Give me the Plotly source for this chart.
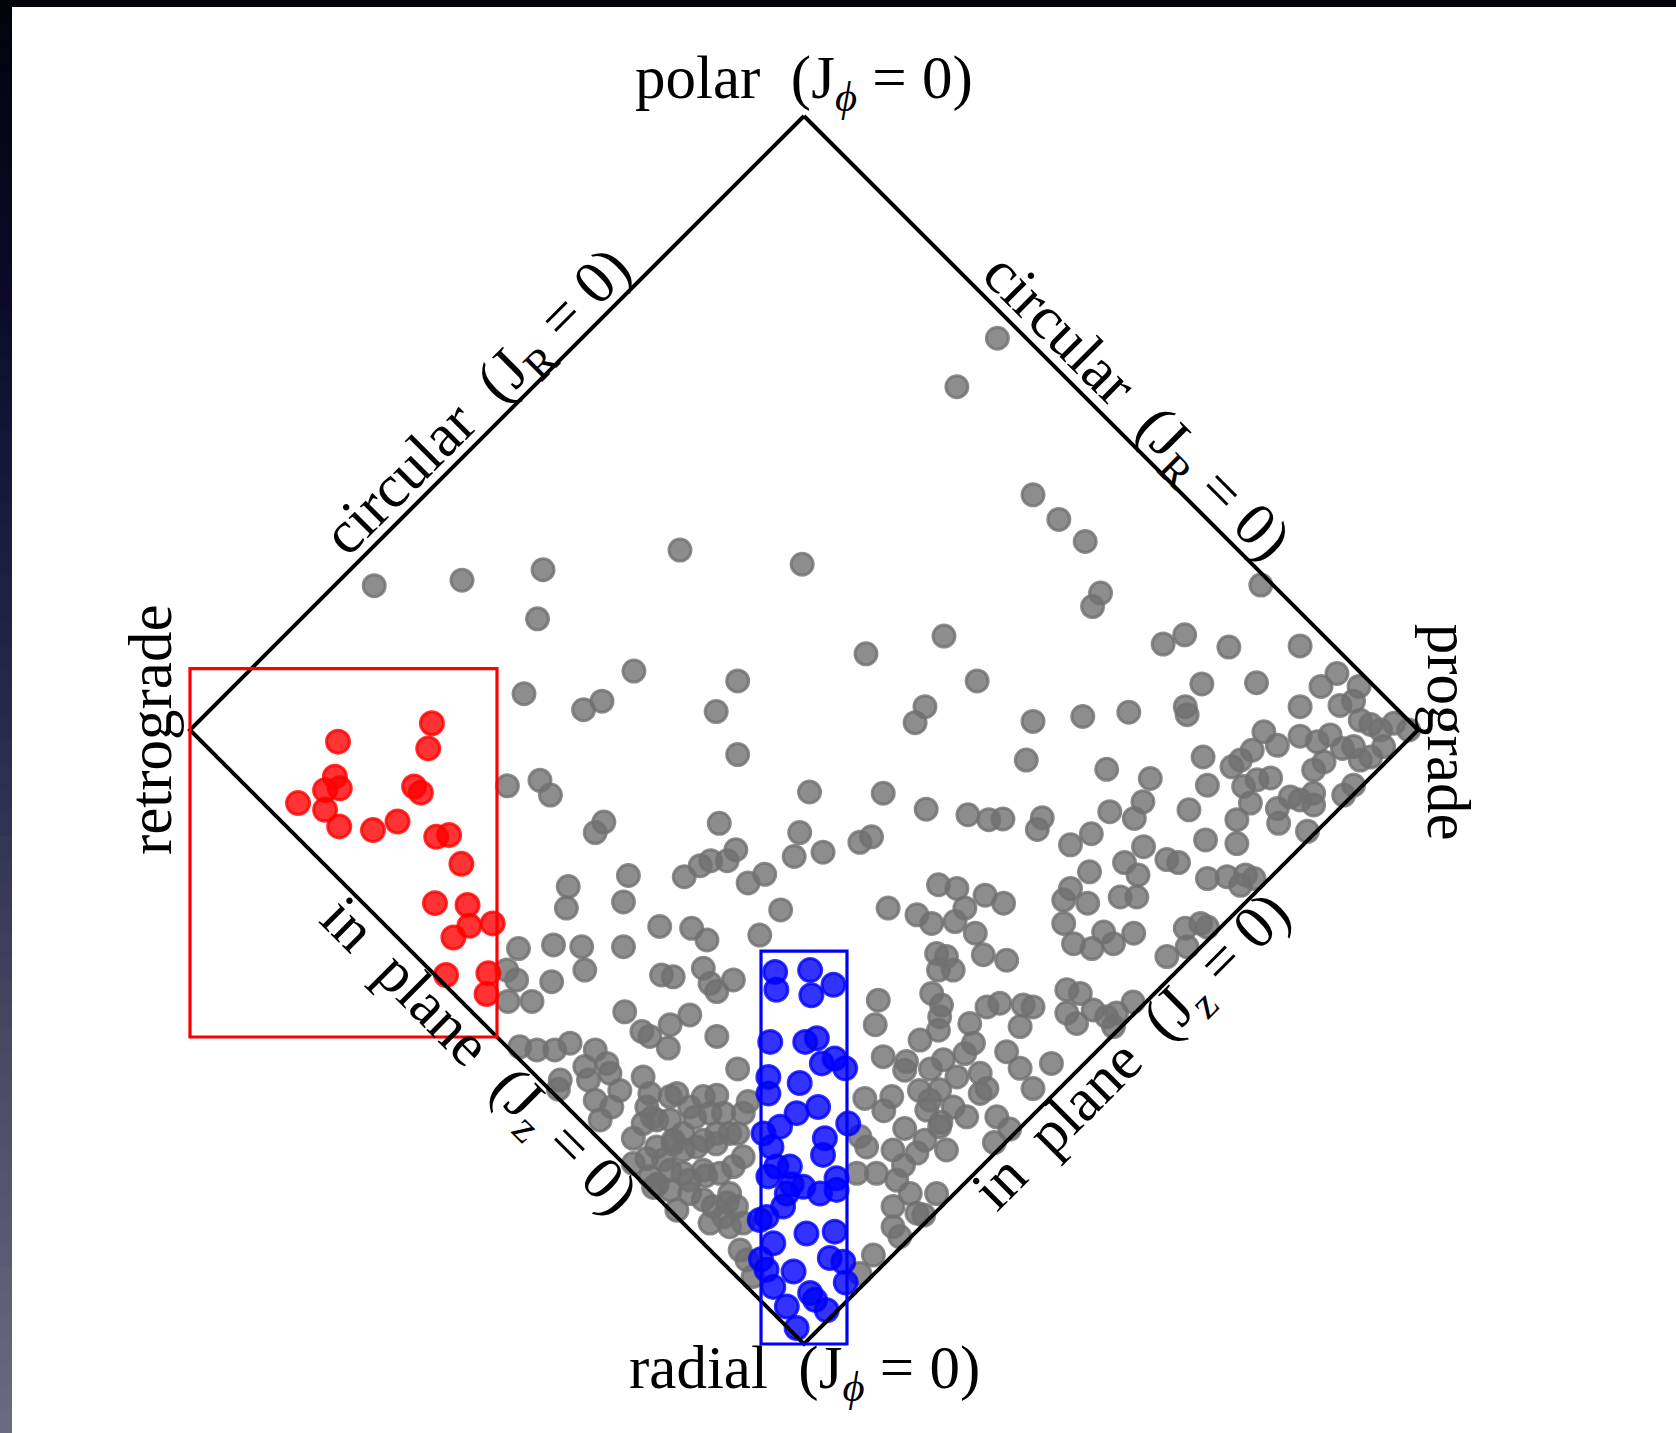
import plotly.graph_objects as go

# ---------------- data (x = J_phi / J_tot, y = (J_z - J_R) / J_tot) ----------------
DIAMOND_X = [0, 1, 0, -1, 0]
DIAMOND_Y = [1, 0, -1, 0, 1]

RED_BOX_X = [-1.0, -0.5]
RED_BOX_Y = [-0.5, 0.1]
BLUE_BOX_X = [-0.07, 0.07]
BLUE_BOX_Y = [-1.0, -0.36]

GRAY_POINTS = [
    (0.315, 0.638), (0.249, 0.559), (0.373, 0.383), (0.415, 0.343), (0.458, 0.307),
    (-0.202, 0.293), (-0.003, 0.270), (-0.700, 0.235), (-0.557, 0.244), (-0.425, 0.261),
    (-0.434, 0.181), (0.101, 0.124), (0.228, 0.153), (-0.277, 0.096), (-0.108, 0.080),
    (0.282, 0.080), (-0.456, 0.059), (-0.359, 0.033), (-0.329, 0.047), (-0.143, 0.030),
    (0.197, 0.038), (0.181, 0.012), (0.373, 0.014), (-0.108, -0.040), (0.362, -0.049),
    (-0.483, -0.091), (-0.430, -0.082), (-0.413, -0.106), (0.009, -0.101), (0.129, -0.103),
    (0.199, -0.129), (0.267, -0.138), (0.301, -0.146), (0.324, -0.145), (0.388, -0.143),
    (0.380, -0.162), (-0.326, -0.150), (-0.340, -0.167), (-0.138, -0.152), (-0.007, -0.167),
    (0.110, -0.174), (0.091, -0.183), (0.031, -0.199), (-0.016, -0.206), (-0.111, -0.195),
    (-0.125, -0.213), (-0.152, -0.213), (-0.169, -0.221), (-0.195, -0.239), (-0.064, -0.235),
    (-0.091, -0.249), (-0.286, -0.237), (-0.038, -0.293),
    # right side
    (0.873, 0.040), (0.895, 0.047), (0.906, 0.016), (0.923, 0.009), (0.939, 0.000),
    (0.961, 0.011), (0.985, 0.000), (0.749, -0.003), (0.771, -0.025), (0.808, -0.010),
    (0.836, -0.019), (0.857, -0.008), (0.877, -0.030), (0.895, -0.027), (0.906, -0.049),
    (0.923, -0.044), (0.944, -0.027), (0.847, -0.052), (0.830, -0.065), (0.730, -0.033),
    (0.711, -0.049), (0.697, -0.060), (0.650, -0.044), (0.657, -0.090), (0.716, -0.092),
    (0.738, -0.081), (0.760, -0.078), (0.727, -0.119), (0.792, -0.109), (0.808, -0.114),
    (0.830, -0.103), (0.830, -0.122), (0.771, -0.128), (0.773, -0.152), (0.705, -0.146),
    (0.705, -0.185), (0.654, -0.179), (0.627, -0.130), (0.493, -0.064), (0.564, -0.079),
    (0.552, -0.117), (0.538, -0.144), (0.498, -0.133), (0.468, -0.169), (0.434, -0.187),
    (0.553, -0.190), (0.591, -0.211), (0.610, -0.216), (0.522, -0.216), (0.544, -0.236),
    (0.465, -0.231), (0.434, -0.258), (0.423, -0.277), (0.462, -0.282), (0.515, -0.272),
    (0.542, -0.272), (0.657, -0.242), (0.689, -0.239), (0.719, -0.236), (0.733, -0.242),
    (0.711, -0.253), (0.879, -0.106), (0.895, -0.090), (0.820, -0.165),
    (0.483, 0.223), (0.470, 0.201), (0.585, 0.140), (0.620, 0.155), (0.692, 0.135),
    (0.808, 0.137), (0.737, 0.077), (0.648, 0.075), (0.621, 0.038), (0.624, 0.025),
    (0.454, 0.022), (0.529, 0.029), (0.808, 0.038), (0.868, 0.092), (0.842, 0.071),
    (0.904, 0.071), (0.744, 0.236),
    (0.423, -0.315), (0.488, -0.329), (0.504, -0.348), (0.537, -0.331), (0.439, -0.348),
    (0.469, -0.356), (0.621, -0.323), (0.646, -0.315), (0.657, -0.321), (0.624, -0.353),
    (0.591, -0.369),
    # lower right
    (0.137, -0.290), (0.184, -0.301), (0.208, -0.315), (0.219, -0.252), (0.249, -0.258),
    (0.262, -0.290), (0.246, -0.312), (0.295, -0.269), (0.325, -0.282), (0.279, -0.331),
    (0.292, -0.366), (0.330, -0.375), (0.216, -0.364), (0.232, -0.369), (0.219, -0.391),
    (0.243, -0.391), (0.208, -0.429), (0.224, -0.448), (0.221, -0.467), (0.219, -0.489),
    (0.189, -0.505), (0.121, -0.440), (0.116, -0.480), (0.129, -0.532), (0.167, -0.540),
    (0.164, -0.554), (0.227, -0.537), (0.270, -0.478), (0.298, -0.451), (0.319, -0.445),
    (0.357, -0.448), (0.373, -0.451), (0.352, -0.483), (0.330, -0.524), (0.352, -0.551),
    (0.373, -0.584), (0.403, -0.543), (0.276, -0.510), (0.262, -0.527), (0.249, -0.565),
    (0.287, -0.559), (0.298, -0.584), (0.221, -0.586), (0.205, -0.603), (0.200, -0.619),
    (0.243, -0.614), (0.265, -0.630), (0.314, -0.630), (0.287, -0.592), (0.099, -0.600),
    (0.143, -0.597), (0.164, -0.649), (0.197, -0.668), (0.221, -0.646), (0.232, -0.684),
    (0.184, -0.689), (0.145, -0.684), (0.091, -0.662), (0.102, -0.679), (0.086, -0.722),
    (0.118, -0.722), (0.151, -0.733), (0.173, -0.755), (0.216, -0.755), (0.145, -0.776),
    (0.184, -0.787), (0.145, -0.809), (0.156, -0.825), (0.195, -0.790), (0.113, -0.855),
    (0.091, -0.885), (0.310, -0.672), (0.335, -0.650), (0.428, -0.423), (0.450, -0.429),
    (0.428, -0.461), (0.444, -0.478), (0.471, -0.456), (0.493, -0.467), (0.509, -0.461),
    (0.536, -0.443), (0.504, -0.483),
    (0.188, -0.587), (0.223, -0.639), (0.162, -0.709), (0.206, -0.552), (0.130, -0.620),
    # lower left
    (-0.384, -0.255), (-0.387, -0.290), (-0.294, -0.280), (-0.235, -0.320), (-0.183, -0.323),
    (-0.158, -0.342), (-0.072, -0.334), (-0.294, -0.353), (-0.362, -0.353), (-0.408, -0.350),
    (-0.465, -0.356), (-0.484, -0.391), (-0.468, -0.407), (-0.411, -0.410), (-0.357, -0.391),
    (-0.232, -0.399), (-0.213, -0.402), (-0.164, -0.388), (-0.153, -0.413), (-0.142, -0.426),
    (-0.115, -0.407), (-0.292, -0.459), (-0.218, -0.480), (-0.186, -0.464), (-0.264, -0.491),
    (-0.251, -0.499), (-0.221, -0.518), (-0.142, -0.499), (-0.482, -0.442), (-0.443, -0.442),
    (-0.463, -0.516), (-0.435, -0.521), (-0.406, -0.521), (-0.381, -0.510), (-0.340, -0.521),
    (-0.357, -0.548), (-0.321, -0.543), (-0.316, -0.559), (-0.351, -0.570), (-0.397, -0.570),
    (-0.400, -0.585), (-0.340, -0.603), (-0.313, -0.614), (-0.332, -0.635), (-0.278, -0.665),
    (-0.262, -0.565), (-0.251, -0.592), (-0.256, -0.614), (-0.218, -0.597), (-0.207, -0.592),
    (-0.186, -0.614), (-0.262, -0.641), (-0.240, -0.635), (-0.218, -0.635), (-0.197, -0.657),
    (-0.213, -0.668), (-0.164, -0.597), (-0.142, -0.595), (-0.153, -0.624), (-0.131, -0.624),
    (-0.099, -0.624), (-0.121, -0.657), (-0.142, -0.657), (-0.164, -0.668), (-0.175, -0.679),
    (-0.197, -0.684), (-0.240, -0.679), (-0.229, -0.700), (-0.256, -0.698), (-0.278, -0.706),
    (-0.251, -0.727), (-0.218, -0.717), (-0.197, -0.722), (-0.186, -0.733), (-0.164, -0.717),
    (-0.137, -0.722), (-0.115, -0.711), (-0.099, -0.695), (-0.245, -0.745), (-0.218, -0.749),
    (-0.186, -0.755), (-0.207, -0.782), (-0.164, -0.765), (-0.148, -0.776), (-0.121, -0.755),
    (-0.110, -0.776), (-0.131, -0.793), (-0.153, -0.803), (-0.121, -0.809), (-0.099, -0.803),
    (-0.104, -0.847), (-0.093, -0.863), (-0.083, -0.890),
    (-0.247, -0.631), (-0.178, -0.631), (-0.213, -0.674), (-0.143, -0.674), (-0.108, -0.657),
    (-0.239, -0.740), (-0.160, -0.726), (-0.125, -0.770), (-0.300, -0.587), (-0.091, -0.605),
    (-0.108, -0.552),
]

RED_POINTS = [
    (-0.759, -0.019), (-0.606, 0.011), (-0.612, -0.030), (-0.764, -0.076), (-0.780, -0.098),
    (-0.756, -0.095), (-0.824, -0.119), (-0.780, -0.130), (-0.757, -0.157), (-0.702, -0.163),
    (-0.662, -0.149), (-0.635, -0.092), (-0.624, -0.102), (-0.599, -0.174), (-0.578, -0.171),
    (-0.558, -0.218), (-0.601, -0.282), (-0.548, -0.285), (-0.545, -0.319), (-0.507, -0.315),
    (-0.571, -0.338), (-0.583, -0.399), (-0.514, -0.396), (-0.517, -0.430),
]

BLUE_POINTS = [
    (-0.047, -0.394), (-0.045, -0.423), (0.010, -0.391), (0.012, -0.432), (0.048, -0.415),
    (-0.055, -0.508), (0.002, -0.508), (0.021, -0.502), (0.029, -0.543), (0.050, -0.535),
    (0.067, -0.551), (-0.058, -0.565), (-0.058, -0.592), (-0.007, -0.575), (0.023, -0.614),
    (-0.012, -0.624), (-0.039, -0.646), (-0.066, -0.657), (-0.053, -0.679), (0.072, -0.641),
    (0.034, -0.665), (0.031, -0.692), (-0.045, -0.711), (-0.023, -0.711), (-0.058, -0.727),
    (-0.001, -0.744), (0.053, -0.730), (0.053, -0.749), (0.026, -0.755), (-0.028, -0.755),
    (-0.061, -0.793), (-0.050, -0.836), (0.004, -0.820), (0.050, -0.817), (0.042, -0.860),
    (0.064, -0.866), (-0.061, -0.879), (-0.017, -0.882), (-0.050, -0.907), (0.068, -0.900),
    (0.010, -0.917), (-0.028, -0.939), (0.037, -0.945), (0.018, -0.928), (-0.012, -0.974),
    (-0.072, -0.798), (-0.034, -0.776), (-0.020, -0.740), (-0.070, -0.862),
]

VERTEX_LABELS = ["polar\u00a0\u00a0(J<sub><i>\u03d5</i></sub>\u00a0=\u00a00)",
                 "radial\u00a0\u00a0(J<sub><i>\u03d5</i></sub>\u00a0=\u00a00)",
                 "retrograde", "prograde"]
EDGE_LABELS = ["circular\u00a0\u00a0(J<sub>R</sub>\u00a0=\u00a00)",
               "in\u00a0\u00a0plane\u00a0\u00a0(J<sub>z</sub>\u00a0=\u00a00)"]

# ---------------- figure ----------------
W, H = 1676, 1433
FONT = "Liberation Serif"


def xy(points):
    return [p[0] for p in points], [p[1] for p in points]


fig = go.Figure()

gx, gy = xy(GRAY_POINTS)
fig.add_trace(go.Scatter(
    x=gx, y=gy, mode="markers", hoverinfo="skip",
    marker=dict(size=22, color="rgba(112,112,112,0.8)",
                line=dict(color="rgba(112,112,112,0.8)", width=3))))

rx, ry = xy(RED_POINTS)
fig.add_trace(go.Scatter(
    x=rx, y=ry, mode="markers", hoverinfo="skip",
    marker=dict(size=23, color="rgba(255,0,0,0.8)",
                line=dict(color="rgba(255,0,0,0.8)", width=3))))

bx, by = xy(BLUE_POINTS)
fig.add_trace(go.Scatter(
    x=bx, y=by, mode="markers", hoverinfo="skip",
    marker=dict(size=23, color="rgba(0,0,255,0.8)",
                line=dict(color="rgba(0,0,255,0.8)", width=3))))

# diamond outline
fig.add_trace(go.Scatter(x=DIAMOND_X, y=DIAMOND_Y, mode="lines", hoverinfo="skip",
                         line=dict(color="black", width=4)))

shapes = [
    dict(type="rect", xref="x", yref="y", x0=RED_BOX_X[0], x1=RED_BOX_X[1],
         y0=RED_BOX_Y[0], y1=RED_BOX_Y[1], line=dict(color="red", width=3.2), layer="above"),
    dict(type="rect", xref="x", yref="y", x0=BLUE_BOX_X[0], x1=BLUE_BOX_X[1],
         y0=BLUE_BOX_Y[0], y1=BLUE_BOX_Y[1], line=dict(color="blue", width=3.2), layer="above"),
]

# dark slide frame (left gradient strip + top strip)
stops = [(0.0, (3, 3, 10)), (0.2, (10, 10, 40)), (0.5, (40, 40, 75)),
         (0.75, (75, 75, 100)), (1.0, (108, 106, 128))]


def grad(t):
    for (t0, c0), (t1, c1) in zip(stops[:-1], stops[1:]):
        if t0 <= t <= t1:
            f = (t - t0) / (t1 - t0)
            return tuple(int(round(a + (b - a) * f)) for a, b in zip(c0, c1))
    return stops[-1][1]


NSTRIP = 60
strip_w = 12 / W
for i in range(NSTRIP):
    t = (i + 0.5) / NSTRIP
    c = grad(t)
    shapes.append(dict(type="rect", xref="paper", yref="paper",
                       x0=0, x1=strip_w, y0=1 - (i + 1) / NSTRIP - 0.001, y1=1 - i / NSTRIP,
                       fillcolor="rgb(%d,%d,%d)" % c, line=dict(width=0), layer="above"))
shapes.append(dict(type="rect", xref="paper", yref="paper", x0=0, x1=1,
                   y0=1 - 7 / H, y1=1, fillcolor="rgb(4,4,12)", line=dict(width=0), layer="above"))

font = dict(family=FONT, size=61, color="black")
annotations = [
    dict(x=0.0, y=1.055, text=VERTEX_LABELS[0], textangle=0),
    dict(x=0.0, y=-1.046, text=VERTEX_LABELS[1], textangle=0),
    dict(x=-1.065, y=0.0, text=VERTEX_LABELS[2], textangle=-90),
    dict(x=1.049, y=-0.003, text=VERTEX_LABELS[3], textangle=90),
    dict(x=-0.529, y=0.531, text=EDGE_LABELS[0], textangle=-45),
    dict(x=0.538, y=0.523, text=EDGE_LABELS[0], textangle=45),
    dict(x=-0.533, y=-0.535, text=EDGE_LABELS[1], textangle=45),
    dict(x=0.536, y=-0.527, text=EDGE_LABELS[1], textangle=-45),
]
for a in annotations:
    a.update(xref="x", yref="y", showarrow=False, font=font,
             xanchor="center", yanchor="middle")

X_RANGE = [-804 / 614, (W - 804) / 614]
Y_RANGE = [(730 - H) / 614, 730 / 614]

fig.update_layout(
    width=W, height=H, margin=dict(l=0, r=0, t=0, b=0),
    paper_bgcolor="white", plot_bgcolor="white", showlegend=False,
    xaxis=dict(range=X_RANGE, visible=False, showgrid=False, zeroline=False),
    yaxis=dict(range=Y_RANGE, visible=False, showgrid=False, zeroline=False),
    shapes=shapes, annotations=annotations,
)

fig.write_html("out.html")
